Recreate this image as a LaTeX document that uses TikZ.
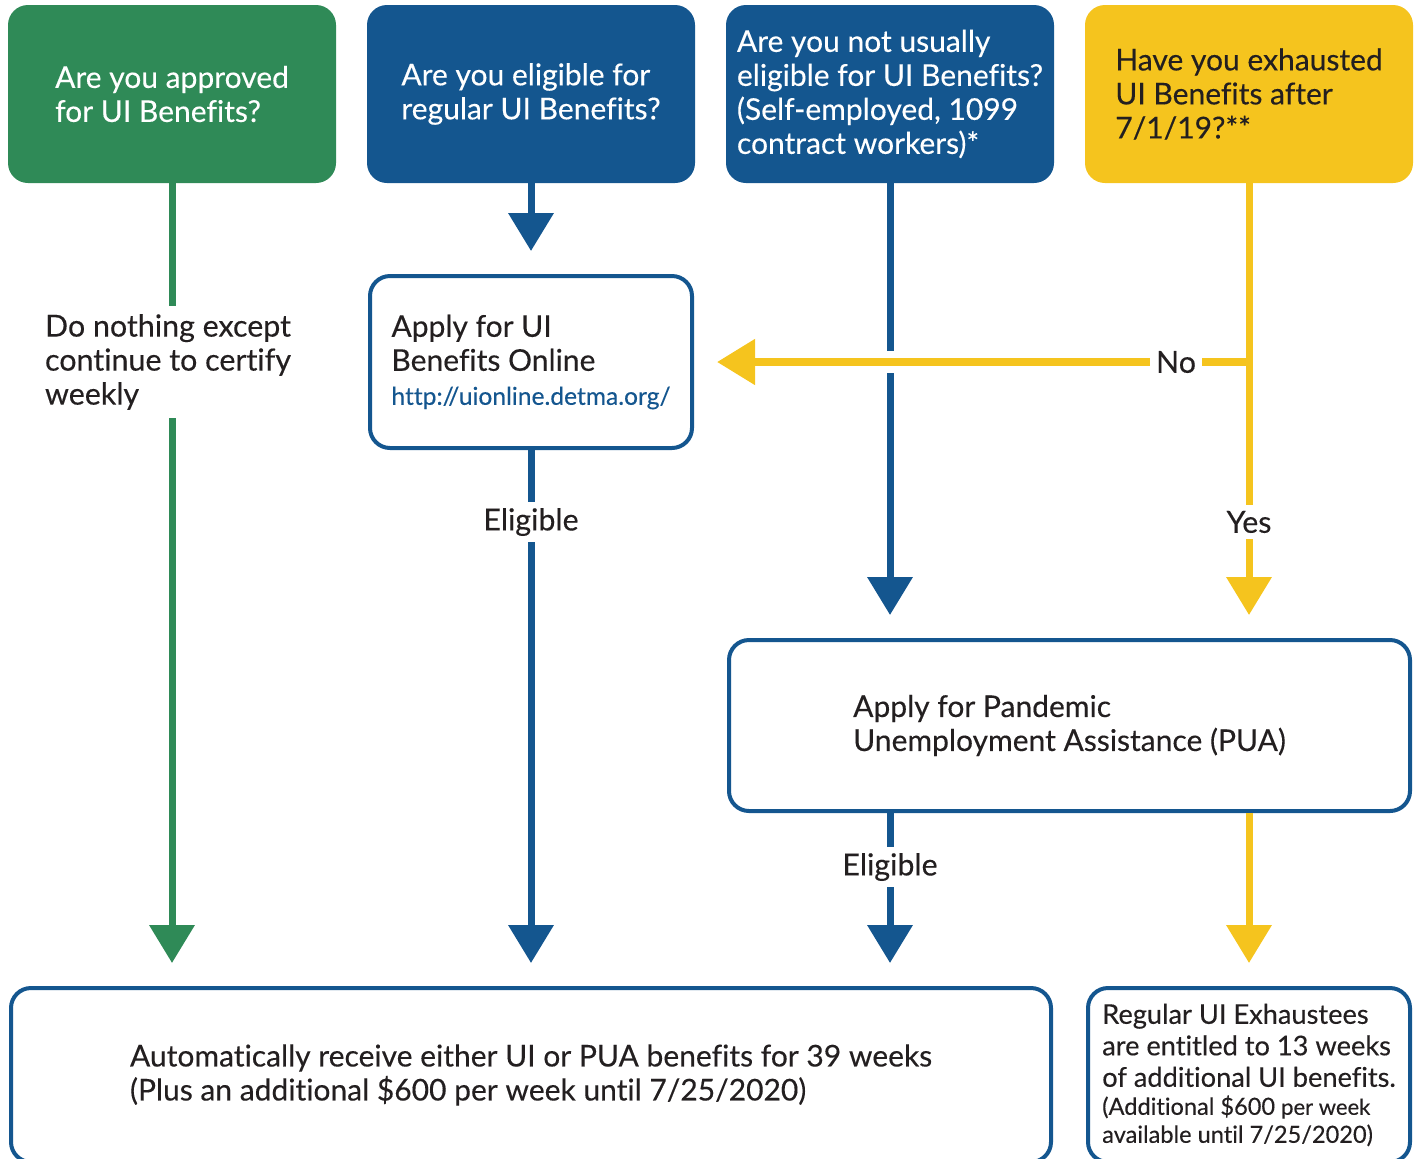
\documentclass[tikz,border=0pt]{standalone}
\usepackage{fontspec}
\setmainfont{Lato}[Ligatures=NoCommon,FakeBold=0.25]
\usepackage{tikz}
\usetikzlibrary{arrows.meta,positioning,calc}
\definecolor{uigreen}{HTML}{2F8A57}
\definecolor{uiblue}{HTML}{14568F}
\definecolor{uiyellow}{HTML}{F5C41E}
\definecolor{ink}{HTML}{231F20}
\tikzset{
  question/.style={rectangle,rounded corners=10pt,minimum width=164pt,
    minimum height=89pt,align=left,text=white,font=\fontsize{15}{17}\selectfont},
  answer/.style={rectangle,rounded corners=10pt,draw=uiblue,line width=2pt,
    fill=white,align=left,text=ink,font=\fontsize{15}{17}\selectfont},
  tag/.style={fill=white,text=ink,inner sep=3pt,font=\fontsize{15.2}{17}\selectfont},
  link/.style={line width=3.5pt},
  flow/.style={line width=3.5pt,-{Triangle[width=22pt,length=19pt]},shorten >=11.5pt}
}

\begin{document}
\begin{tikzpicture}[x=0.5pt,y=-0.5pt]
  \useasboundingbox (0,0) rectangle (1424,1158);
  \clip (0,0) rectangle (1424,1158);
  % questions
  \node[question,fill=uigreen] (approved) at (172,94) {Are you approved\\for UI Benefits?};
  \node[question,fill=uiblue] (regular) at (531,94) {Are you eligible for\\regular UI Benefits?};
  \node[question,fill=uiblue] (notusual) at (890,94)
    {Are you not usually\\eligible for UI Benefits?\\(Self-employed, 1099\\contract workers)*};
  \node[question,fill=uiyellow,text=ink] (exhausted) at (1249,94)
    {Have you exhausted\\UI Benefits after\\7/1/19?**};
  % answers
  \node[answer,minimum width=161pt,minimum height=86pt] (applyui) at (531,362)
    {Apply for UI\\Benefits Online\\{\color{uiblue}\fontsize{12.3}{17}\selectfont http://uionline.detma.org/}};
  \node[answer,minimum width=340.5pt,minimum height=85.5pt] (pua) at (1069.5,725.5)
    {Apply for Pandemic\\Unemployment Assistance (PUA)};
  \node[answer,minimum width=520pt,minimum height=87pt] (receive) at (531,1075)
    {Automatically receive either UI or PUA benefits for 39 weeks\\(Plus an additional \$600 per week until 7/25/2020)};
  \node[answer,minimum width=161pt,minimum height=87pt,font=\fontsize{13.6}{14}\selectfont] (extend) at (1249,1075)
    {Regular UI Exhaustees\\[1.75pt]are entitled to 13 weeks\\[1.75pt]of additional UI benefits.\\
     \fontsize{11.8}{14}\selectfont(Additional \$600 {\fontsize{11}{14}\selectfont per week}\\
     \fontsize{11.8}{14}\selectfont available until 7/25/2020)};
  % labels on the lines
  \node[tag,align=left,inner sep=4pt] (stay) at (168,362) {Do nothing except\\continue to certify\\weekly};
  \node[tag] (elig1) at (531,522) {Eligible};
  \node[tag] (elig2) at (890,867) {Eligible};
  \node[tag] (yes) at (1249,522) {Yes};
  \node[tag] (no) at (1176,362) {No};
  \coordinate (split) at (exhausted |- applyui);
  \coordinate (cross) at (notusual |- applyui);
  % connectors
  \draw[link,uigreen] (approved) -- (approved |- stay.north);
  \draw[flow,uigreen] (approved |- stay.south) -- (approved |- receive.north);
  \draw[flow,uiblue] (regular) -- (applyui);
  \draw[link,uiblue] (applyui) -- (elig1);
  \draw[flow,uiblue] (elig1) -- (elig1 |- receive.north);
  \draw[flow,uiblue] (notusual) -- (notusual |- pua.north);
  % gap where the yellow line crosses
  \draw[white,line width=4.5pt] ([yshift=5.5pt]cross) -- ([yshift=-5.5pt]cross);
  \draw[link,uiyellow] (exhausted) -- (yes);
  \draw[link,uiyellow,line width=4pt] (split) -- (no);
  \draw[flow,uiyellow,line width=4pt] (no) -- (applyui);
  \draw[flow,uiyellow] (yes) -- (yes |- pua.north);
  \draw[link,uiblue] (pua.south -| elig2) -- (elig2);
  \draw[flow,uiblue] (elig2) -- (elig2 |- receive.north);
  \draw[flow,uiyellow] (pua.south -| extend) -- (extend);
\end{tikzpicture}
\end{document}
